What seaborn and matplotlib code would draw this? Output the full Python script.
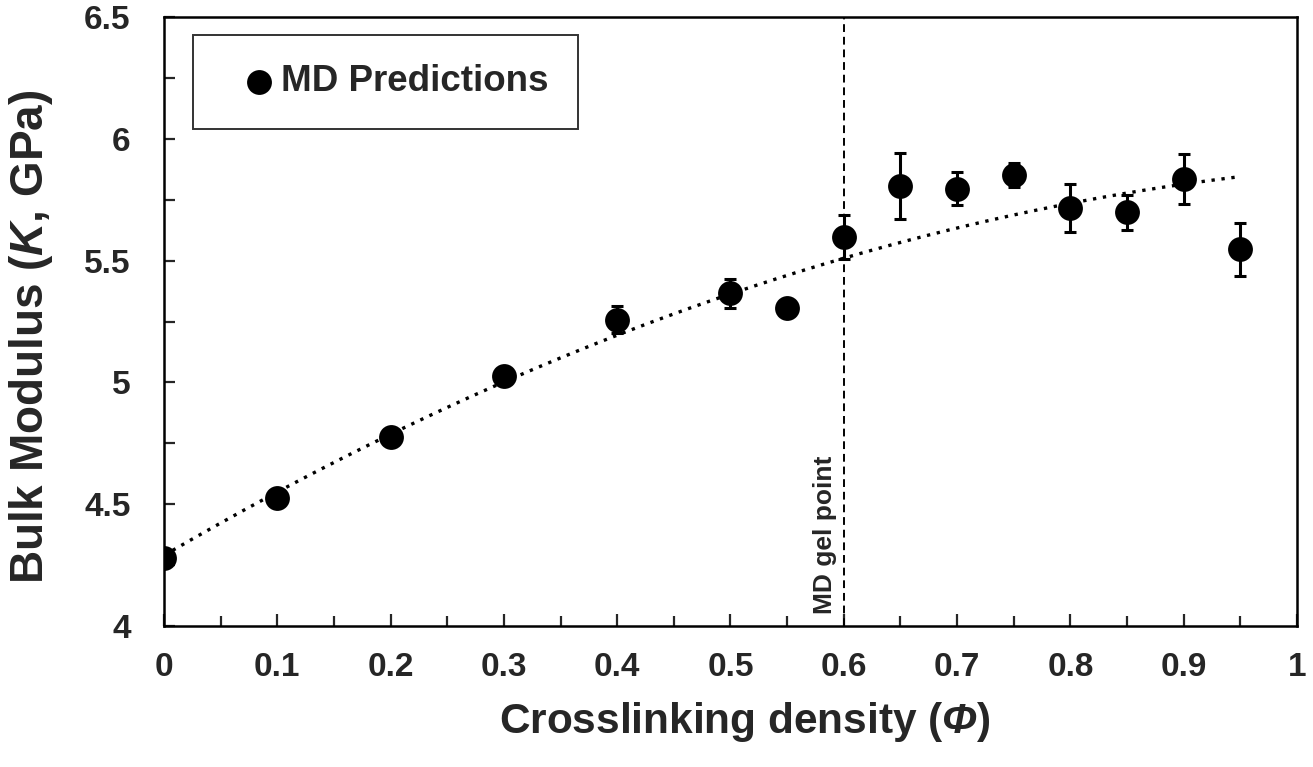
import seaborn as sns
import matplotlib.pyplot as plt
import matplotlib.ticker as mticker
import pandas as pd
import numpy as np

sns.set_style("ticks")
plt.rcParams['font.family'] = ['Liberation Sans', 'DejaVu Sans']
plt.rcParams['font.weight'] = 'bold'
plt.rcParams['mathtext.fontset'] = 'custom'
plt.rcParams['mathtext.it'] = 'Liberation Sans:italic:bold'
plt.rcParams['mathtext.sf'] = 'Liberation Sans:italic:bold'
plt.rcParams['mathtext.rm'] = 'Liberation Sans:bold'

# MD bulk modulus vs crosslinking density
phi = [0.0, 0.1, 0.2, 0.3, 0.4, 0.5, 0.55, 0.6, 0.65, 0.7, 0.75, 0.8, 0.85, 0.9, 0.95]
bulk_k = [4.28, 4.525, 4.776, 5.025, 5.258, 5.366, 5.304, 5.598, 5.805, 5.795,
          5.851, 5.716, 5.698, 5.836, 5.546]
k_err = [0.015, 0.015, 0.015, 0.02, 0.055, 0.06, 0.02, 0.09, 0.135, 0.068,
         0.05, 0.1, 0.072, 0.103, 0.108]
# dotted trendline (2nd order polynomial, coefficients)
trend_coef = [-1.133, 2.713, 4.29]
gel_point = 0.6

df = pd.DataFrame({"phi": phi, "K": bulk_k, "err": k_err})

fig = plt.figure(figsize=(13.13, 7.67), dpi=100)
ax = fig.add_axes([0.1249, 0.1838, 0.8629, 0.794])

xf = np.linspace(df["phi"].min(), df["phi"].max(), 200)
ax.plot(xf, np.polyval(trend_coef, xf), color="black", linestyle=(0, (1, 2.0)), lw=2.4, zorder=2)

ax.errorbar(df["phi"], df["K"], yerr=df["err"], fmt="none", ecolor="black",
            elinewidth=2.2, capsize=4, capthick=2.2, zorder=3)
sns.scatterplot(data=df, x="phi", y="K", ax=ax, color="black", s=320,
                edgecolor="black", linewidth=0, label="MD Predictions", zorder=4)

ax.axvline(gel_point, color="black", linestyle=(0, (4, 2.5)), lw=1.4, zorder=1)
ax.text(gel_point - 0.006, 4.05, "MD gel point", rotation=90, ha="right", va="bottom",
        fontsize=19, fontweight="bold")

ax.set_xlim(0, 1)
ax.set_ylim(4, 6.5)
ax.xaxis.set_major_locator(mticker.MultipleLocator(0.1))
ax.xaxis.set_minor_locator(mticker.MultipleLocator(0.05))
ax.yaxis.set_major_locator(mticker.MultipleLocator(0.5))
ax.yaxis.set_minor_locator(mticker.MultipleLocator(0.25))
ax.xaxis.set_major_formatter(mticker.FuncFormatter(lambda v, p: "%g" % round(v, 2)))
ax.yaxis.set_major_formatter(mticker.FuncFormatter(lambda v, p: "%g" % round(v, 2)))

ax.tick_params(axis="both", which="both", direction="in", width=1.6, labelsize=24)
ax.tick_params(axis="x", which="major", length=9, pad=19)
ax.tick_params(axis="x", which="minor", length=7)
ax.tick_params(axis="y", which="major", length=8, pad=24)
ax.tick_params(axis="y", which="minor", length=8)
for s in ax.spines.values():
    s.set_linewidth(1.8)
    s.set_color("black")

ax.set_xlabel(r"Crosslinking density ($\mathsf{\Phi}$)", fontsize=30.5, fontweight="bold")
ax.set_ylabel(r"Bulk Modulus ($\mathit{K}$, GPa)", fontsize=33, fontweight="bold")
ax.xaxis.set_label_coords(0.513, -0.122)
ax.yaxis.set_label_coords(-0.096, 0.474)

leg = ax.legend(loc="upper left", bbox_to_anchor=(0.0256, 0.9704), fontsize=26.5,
                frameon=True, fancybox=False, edgecolor="black", borderpad=0.8,
                handletextpad=-0.4, handlelength=2.0, borderaxespad=0)
leg.get_frame().set_linewidth(1.4)
for t in leg.get_texts():
    t.set_fontweight("bold")

plt.savefig("out.png", dpi=100)
plt.close()
